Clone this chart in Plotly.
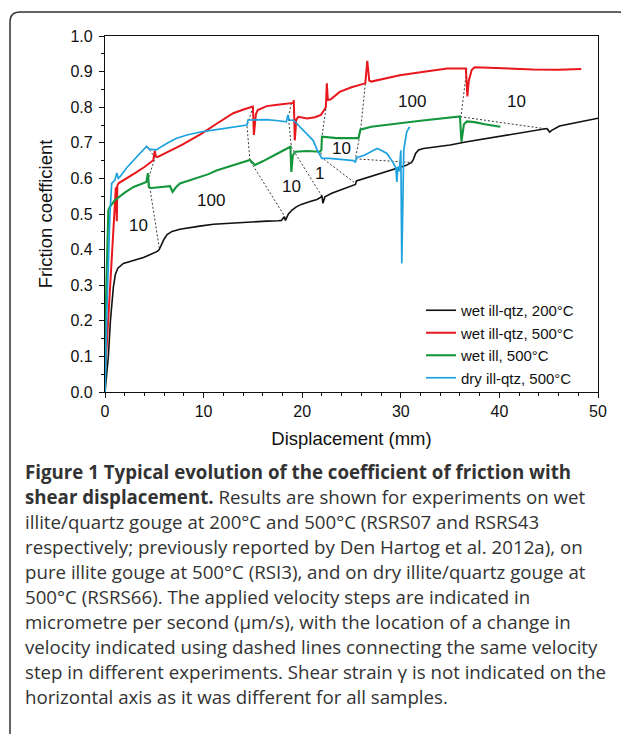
import plotly.graph_objects as go

# ---------------- data ----------------
black_x = [0, 0.15, 0.34, 0.55, 0.85, 1.05, 1.3, 1.86, 2.5, 3.2, 3.9, 4.6, 5.3, 5.5, 5.7, 6.0, 6.3, 6.8,
           7.6, 8.6, 9.6, 11.0, 13.0, 15.0, 16.4, 17.6, 17.9, 18.15, 18.3, 18.6, 19.0, 19.4, 19.9, 20.8,
           21.5, 21.9, 22.0, 22.1, 22.3, 23.0, 23.8, 24.6, 25.4, 25.5, 26.3, 27.2, 28.4, 29.6, 30.5,
           31.1, 31.3, 31.5, 31.8, 32.3, 33.5, 35.0, 36.7, 38.5, 40.1, 42.5, 44.8, 45.1, 45.3, 46.1,
           47.2, 48.2, 49.2, 50.0]
black_y = [0.0, 0.04, 0.10, 0.20, 0.295, 0.33, 0.348, 0.361, 0.366, 0.372, 0.378, 0.386, 0.395, 0.400,
           0.412, 0.430, 0.442, 0.451, 0.457, 0.462, 0.466, 0.471, 0.475, 0.479, 0.480, 0.481, 0.482,
           0.492, 0.482, 0.500, 0.512, 0.520, 0.527, 0.535, 0.541, 0.547, 0.552, 0.530, 0.548, 0.558,
           0.567, 0.574, 0.583, 0.593, 0.600, 0.606, 0.617, 0.628, 0.636, 0.645, 0.655, 0.670, 0.680,
           0.684, 0.688, 0.694, 0.703, 0.711, 0.717, 0.728, 0.740, 0.730, 0.735, 0.747, 0.753, 0.759,
           0.765, 0.769]

red_x = [0.05, 1.0, 1.1, 1.2, 1.25, 1.4, 2.0, 3.0, 4.0, 4.9, 5.05, 5.15, 5.3, 6.5, 7.8, 9.0, 9.8, 11.4,
         13.0, 14.2, 15.0, 15.1, 15.3, 15.5, 16.4, 17.5, 18.5, 19.1, 19.15, 19.25, 19.4, 19.6, 20.5,
         21.3, 21.9, 22.2, 22.4, 22.5, 22.6, 22.9, 23.8, 25.0, 26.4, 26.6, 26.8, 27.0, 28.5, 29.9, 32.0,
         34.7, 36.6, 36.75, 36.9, 37.2, 37.5, 40.1, 43.4, 46.0, 48.3]
red_y = [0.07, 0.55, 0.575, 0.48, 0.58, 0.587, 0.598, 0.614, 0.632, 0.651, 0.678, 0.662, 0.660, 0.676,
         0.694, 0.713, 0.726, 0.755, 0.783, 0.795, 0.802, 0.722, 0.780, 0.792, 0.803, 0.807, 0.809,
         0.812, 0.820, 0.707, 0.765, 0.773, 0.768, 0.772, 0.778, 0.792, 0.800, 0.867, 0.820, 0.822,
         0.843, 0.856, 0.867, 0.930, 0.875, 0.872, 0.882, 0.890, 0.898, 0.909, 0.909, 0.830, 0.875,
         0.905, 0.912, 0.909, 0.906, 0.905, 0.907]

green_x = [0, 0.1, 0.34, 0.5, 1.0, 2.0, 2.9, 3.6, 4.2, 4.35, 4.45, 4.7, 5.5, 6.6, 6.85, 7.2, 7.6, 9.0,
           10.5, 11.3, 13.0, 14.7, 15.2, 16.0, 17.5, 18.8, 18.9, 19.05, 19.3, 20.5, 21.8, 21.95, 22.0,
           23.5, 25.7, 25.9, 27.0, 28.5, 29.9, 32.0, 34.0, 36.0, 36.15, 36.4, 36.7, 37.5, 38.5, 40.1]
green_y = [0.0, 0.26, 0.51, 0.52, 0.539, 0.560, 0.576, 0.584, 0.590, 0.615, 0.575, 0.573, 0.575, 0.578,
           0.562, 0.575, 0.586, 0.598, 0.612, 0.622, 0.637, 0.652, 0.638, 0.648, 0.670, 0.689, 0.618,
           0.665, 0.675, 0.677, 0.675, 0.680, 0.717, 0.713, 0.713, 0.737, 0.745, 0.751, 0.755, 0.762,
           0.768, 0.774, 0.703, 0.752, 0.760, 0.758, 0.752, 0.745]

blue_x = [0, 0.17, 0.5, 0.68, 1.0, 1.2, 1.35, 1.5, 2.2, 2.9, 3.6, 4.2, 4.5, 5.2, 6.25, 7.2, 8.3, 9.8,
          11.3, 13.0, 14.4, 14.5, 16.4, 17.6, 18.4, 18.55, 18.7, 19.1, 20.0, 21.1, 21.6, 22.0, 22.8,
          24.0, 25.2, 25.4, 25.5, 26.3, 26.9, 27.6, 28.0, 28.6, 29.2, 29.5, 29.6, 29.7, 29.85, 30.0,
          30.1, 30.2, 30.3, 30.6, 30.9]
blue_y = [0.0, 0.21, 0.50, 0.586, 0.595, 0.615, 0.600, 0.604, 0.630, 0.651, 0.672, 0.690, 0.682, 0.680,
          0.698, 0.712, 0.722, 0.731, 0.737, 0.744, 0.750, 0.764, 0.765, 0.762, 0.759, 0.778, 0.763,
          0.764, 0.737, 0.707, 0.675, 0.656, 0.656, 0.652, 0.650, 0.645, 0.658, 0.665, 0.673, 0.684,
          0.679, 0.670, 0.645, 0.630, 0.590, 0.633, 0.620, 0.679, 0.361, 0.600, 0.680, 0.731, 0.745]

# velocity-step connectors (x, y pairs along each dashed line)
step_lines_x = [[4.3, 5.07, 4.4, 5.5],
                [15.0, 14.4, 14.7, 18.3],
                [18.9, 18.6, 18.9, 22.0],
                [22.4, 22.0, 21.9, 25.4],
                [26.4, 25.9, 25.4, 30.9],
                [36.7, 36.1, 45.0]]
step_lines_y = [[0.690, 0.657, 0.600, 0.405],
                [0.800, 0.748, 0.650, 0.490],
                [0.811, 0.772, 0.688, 0.550],
                [0.795, 0.717, 0.660, 0.586],
                [0.866, 0.730, 0.655, 0.645],
                [0.909, 0.773, 0.738]]

vel_labels = ["10", "100", "10", "1", "10", "100", "10"]
vel_label_x = [3.4, 10.8, 18.9, 21.8, 24.0, 31.1, 41.7]
vel_label_y = [0.469, 0.539, 0.577, 0.614, 0.684, 0.815, 0.815]

series_names = ["wet ill-qtz, 200°C", "wet ill-qtz, 500°C", "wet ill, 500°C", "dry ill-qtz, 500°C"]
series_colors = ["#111111", "#e8161d", "#14963c", "#1ea2de"]
series_widths = [1.6, 2.0, 2.1, 1.7]

caption_lines = [
    "<b>Figure 1 Typical evolution of the coefficient of friction with</b>",
    "<b>shear displacement.</b> Results are shown for experiments on wet",
    "illite/quartz gouge at 200°C and 500°C (RSRS07 and RSRS43",
    "respectively; previously reported by Den Hartog et al. 2012a), on",
    "pure illite gouge at 500°C (RSI3), and on dry illite/quartz gouge at",
    "500°C (RSRS66). The applied velocity steps are indicated in",
    "micrometre per second (μm/s), with the location of a change in",
    "velocity indicated using dashed lines connecting the same velocity",
    "step in different experiments. Shear strain γ is not indicated on the",
    "horizontal axis as it was different for all samples.",
]

# ---------------- figure ----------------
OFF = 8                      # default page margin around the plot div
PAGE_W, PAGE_H = 629, 734
W, H = PAGE_W - OFF, PAGE_H - OFF
PLOT_L, PLOT_R, PLOT_T, PLOT_B = 105, 598, 36, 392   # page pixels of the plot frame
L = PLOT_L - OFF
T = PLOT_T - OFF
R = W - (PLOT_R - OFF)
B = H - (PLOT_B - OFF)
pw, ph = PLOT_R - PLOT_L, PLOT_B - PLOT_T


def px2paper_x(px):
    return (px - PLOT_L) / pw


def px2paper_y(py):
    return (PLOT_B - py) / ph


fig = go.Figure()

for xs, ys in zip(step_lines_x, step_lines_y):
    fig.add_trace(go.Scatter(x=xs, y=ys, mode="lines", showlegend=False, hoverinfo="skip",
                             line=dict(color="#222222", width=0.9, dash="2px,2px")))

all_x = [black_x, red_x, green_x, blue_x]
all_y = [black_y, red_y, green_y, blue_y]
for xs, ys, name, col, wd in zip(all_x, all_y, series_names, series_colors, series_widths):
    fig.add_trace(go.Scatter(x=xs, y=ys, mode="lines", name=name,
                             line=dict(color=col, width=wd)))

for t, x, y in zip(vel_labels, vel_label_x, vel_label_y):
    fig.add_annotation(x=x, y=y, text=t, showarrow=False,
                       font=dict(family="Liberation Sans", size=17, color="#111111"))

# caption
cap_top = 471
cap_step = 25
for i, line in enumerate(caption_lines):
    fig.add_annotation(xref="paper", yref="paper", x=px2paper_x(23), y=px2paper_y(cap_top + i * cap_step),
                       xanchor="left", yanchor="middle", showarrow=False, align="left", text=line,
                       font=dict(family="Open Sans", size=18.7, color="#333333"))

# outer rounded frame
xl, xr = px2paper_x(10), px2paper_x(628)
yt, yb = px2paper_y(12), px2paper_y(734)
rx, ry = 10 / pw, 10 / ph
path = (f"M {xl},{yb} L {xl},{yt - ry} Q {xl},{yt} {xl + rx},{yt} "
        f"L {xr - rx},{yt} Q {xr},{yt} {xr},{yt - ry} L {xr},{yb}")
fig.add_shape(type="path", xref="paper", yref="paper", path=path,
              line=dict(color="#333333", width=1.5))

axis_font = dict(family="Liberation Sans", size=16, color="#111111")
title_font = dict(family="Liberation Sans", size=18.5, color="#111111")
fig.update_xaxes(range=[0, 50], dtick=10, tick0=0, ticks="outside", ticklen=5, tickwidth=1,
                 tickcolor="#111", showline=True, linecolor="#111", linewidth=1.2, mirror=True,
                 showgrid=False, zeroline=False, tickfont=axis_font,
                 minor=dict(dtick=2, ticks="outside", ticklen=3, tickcolor="#111", showgrid=False),
                 title=dict(text="Displacement (mm)", font=title_font, standoff=12))
fig.update_yaxes(range=[0, 1.0], dtick=0.1, tick0=0, tickformat=".1f", ticks="outside", ticklen=5,
                 tickwidth=1, tickcolor="#111", showline=True, linecolor="#111", linewidth=1.2,
                 mirror=True, showgrid=False, zeroline=False, tickfont=axis_font, ticklabelstandoff=3,
                 minor=dict(dtick=0.05, ticks="outside", ticklen=3, tickcolor="#111", showgrid=False),
                 title=dict(text="Friction coefficient", font=title_font, standoff=12))

fig.update_layout(
    width=W, height=H,
    margin=dict(l=L, r=R, t=T, b=B, autoexpand=False),
    paper_bgcolor="white", plot_bgcolor="white",
    legend=dict(x=px2paper_x(421), y=px2paper_y(294), xanchor="left", yanchor="top",
                bgcolor="rgba(0,0,0,0)", font=dict(family="Liberation Sans", size=15, color="#111"),
                itemwidth=30, tracegroupgap=0),
    showlegend=True,
)

fig.write_html("out.html")
